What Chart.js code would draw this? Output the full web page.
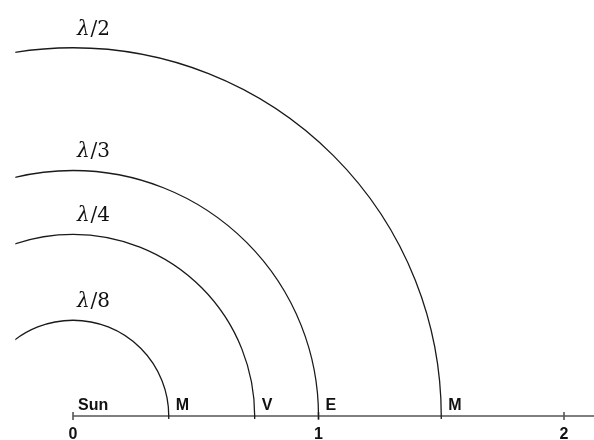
<!DOCTYPE html>
<html>
<head>
<meta charset="utf-8">
<script src="https://cdn.jsdelivr.net/npm/chart.js@4.4.1/dist/chart.umd.min.js"></script>
<style>
  html, body { margin: 0; padding: 0; background: #fff; }
  #orbits { display: block; }
</style>
</head>
<body>
<canvas id="orbits" width="594" height="440"></canvas>
<script>
// orbit radii (AU from the Sun)
const orbitRadii = [0.39, 0.74, 1.0, 1.5];
const arcLabels = ['λ/8', 'λ/4', 'λ/3', 'λ/2'];
const planetLabels = ['M', 'V', 'E', 'M'];
const sunLabel = 'Sun';
const tickValues = [0, 1, 2];
const tickLabels = ['0', '1', '2'];

// arcs, axis and labels are drawn through the chart's x/y scales
const orbitPlugin = {
  id: 'orbitArcs',
  afterDatasetsDraw(chart) {
    const ctx = chart.ctx;
    const xs = chart.scales.x;
    const ys = chart.scales.y;
    const cx = xs.getPixelForValue(0);
    const cy = ys.getPixelForValue(0);

    ctx.save();

    // horizontal axis
    ctx.strokeStyle = '#555';
    ctx.lineWidth = 1.6;
    ctx.beginPath();
    ctx.moveTo(cx, cy);
    ctx.lineTo(chart.chartArea.right, cy);
    ctx.stroke();

    ctx.font = 'bold 16px "Liberation Sans", Arial, sans-serif';
    ctx.fillStyle = '#111';
    ctx.textAlign = 'center';
    ctx.textBaseline = 'alphabetic';
    tickValues.forEach((v, i) => {
      const px = xs.getPixelForValue(v);
      ctx.beginPath();
      ctx.moveTo(px, cy - 4);
      ctx.lineTo(px, cy + 4);
      ctx.stroke();
      ctx.fillText(tickLabels[i], px, cy + 23);
    });

    // orbit arcs (clipped at the left edge like the original)
    ctx.save();
    ctx.beginPath();
    ctx.rect(xs.getPixelForValue(-0.235), 0, chart.width, cy + 3);
    ctx.clip();
    ctx.strokeStyle = '#1a1a1a';
    ctx.lineWidth = 1.3;
    orbitRadii.forEach(r => {
      const rx = xs.getPixelForValue(r) - cx;
      const ry = cy - ys.getPixelForValue(r);
      ctx.beginPath();
      ctx.ellipse(cx, cy, rx, ry, 0, Math.PI, 2 * Math.PI);
      ctx.lineTo(cx + rx, cy + 3);
      ctx.stroke();
    });
    ctx.restore();

    // planet labels
    ctx.font = 'bold 16px "Liberation Sans", Arial, sans-serif';
    ctx.textAlign = 'left';
    ctx.fillText(sunLabel, cx + 5, cy - 6);
    orbitRadii.forEach((r, i) => {
      ctx.fillText(planetLabels[i], xs.getPixelForValue(r) + 7, cy - 6);
    });

    // arc labels above the top of each arc: italic lambda, upright "/n"
    const italic = 'italic 20px "DejaVu Serif", "Liberation Serif", serif';
    const upright = '20px "DejaVu Serif", "Liberation Serif", serif';
    orbitRadii.forEach((r, i) => {
      const lam = arcLabels[i].slice(0, 1);
      const rest = arcLabels[i].slice(1);
      ctx.font = italic;
      const w1 = ctx.measureText(lam).width;
      ctx.font = upright;
      const w2 = ctx.measureText(rest).width;
      const x0 = cx + 20 - (w1 + w2) / 2;
      const y = ys.getPixelForValue(r) - 13;
      ctx.font = italic;
      ctx.fillText(lam, x0, y);
      ctx.font = upright;
      ctx.fillText(rest, x0 + w1 + 1, y);
    });

    ctx.restore();
  }
};

new Chart(document.getElementById('orbits'), {
  type: 'scatter',
  data: {
    datasets: [{
      label: 'orbits',
      data: orbitRadii.map(r => ({ x: r, y: 0 })),
      pointRadius: 0
    }]
  },
  options: {
    responsive: false,
    animation: false,
    layout: { padding: 0 },
    plugins: {
      legend: { display: false },
      tooltip: { enabled: false }
    },
    scales: {
      x: { type: 'linear', min: -0.2974, max: 2.1222, display: false },
      y: { type: 'linear', min: -0.0978, max: 1.6945, display: false }
    }
  },
  plugins: [orbitPlugin]
});
</script>
</body>
</html>
